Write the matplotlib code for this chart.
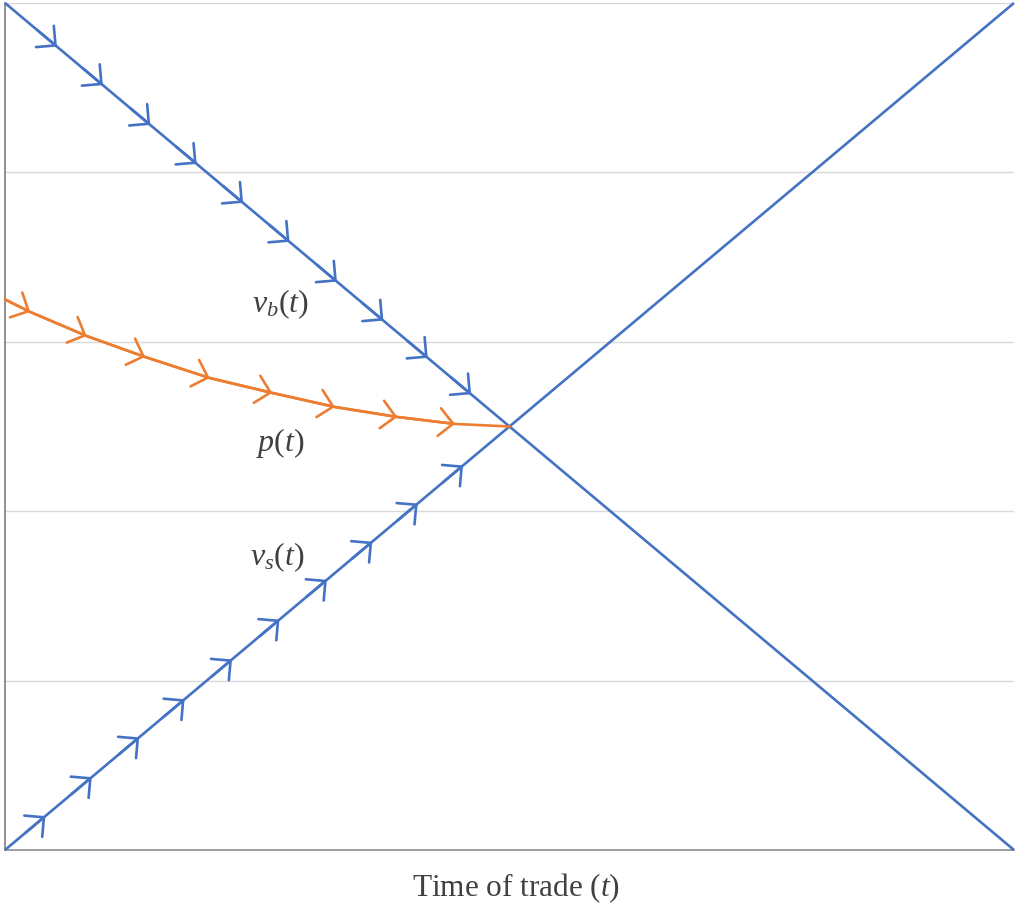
import numpy as np
import matplotlib
matplotlib.use("Agg")
import matplotlib.pyplot as plt

BLUE = "#4472C4"
ORANGE = "#ED7D31"
TXT = "#404040"

# line end points (x is time, y is value)
vb_x = [0.0, 1.0]
vb_y = [5.0, 0.0]
vs_x = [0.0, 1.0]
vs_y = [0.0, 5.0]
# price path p(t)
p_x = [0.0, 0.025, 0.081, 0.139, 0.203, 0.265, 0.327, 0.389, 0.446, 0.5]
p_y = [3.25, 3.176, 3.034, 2.910, 2.786, 2.698, 2.615, 2.556, 2.515, 2.5]
# where the chevrons sit
vb_arrows = [0.0515, 0.097, 0.144, 0.190, 0.236, 0.282, 0.329, 0.375, 0.419, 0.462]
vs_arrows = [0.040, 0.086, 0.133, 0.178, 0.225, 0.272, 0.319, 0.364, 0.409, 0.454]

plt.rcParams["mathtext.fontset"] = "custom"
plt.rcParams["mathtext.rm"] = "Liberation Serif"
plt.rcParams["mathtext.it"] = "Liberation Serif:italic"
plt.rcParams["font.family"] = "Liberation Serif"

fig = plt.figure(figsize=(10.16, 9.05), dpi=100)
ax = fig.add_axes([0.0049, 0.0608, 0.9931, 0.9359])
ax.set_xlim(0, 1); ax.set_ylim(0, 5)
ax.set_yticks([1, 2, 3, 4, 5]); ax.set_xticks([])
ax.grid(axis="y", color="#d9d9d9", lw=1.0)
ax.tick_params(left=False, labelleft=False)
for s in ["top", "right"]:
    ax.spines[s].set_visible(False)
ax.spines["left"].set_color("#7f7f7f"); ax.spines["bottom"].set_color("#8c8c8c")
ax.spines["left"].set_linewidth(1.2); ax.spines["bottom"].set_linewidth(1.2)
ax.set_axisbelow(True)

LW = 1.9
ax.plot(vb_x, vb_y, color=BLUE, lw=LW, solid_capstyle="butt", clip_on=False, zorder=3)
ax.plot(vs_x, vs_y, color=BLUE, lw=LW, solid_capstyle="butt", clip_on=False, zorder=3)
ax.plot(p_x, p_y, color=ORANGE, lw=LW, solid_joinstyle="round", zorder=4)

def chevron(tip, back, color):
    ax.annotate("", xy=tip, xytext=back,
                arrowprops=dict(arrowstyle="->,head_length=1.0,head_width=1.0",
                                color=color, lw=LW, shrinkA=0, shrinkB=0,
                                mutation_scale=10), zorder=5)

for x in vb_arrows:
    chevron((x, 5 - 5 * x), (x - 0.02, 5 - 5 * (x - 0.02)), BLUE)
for x in vs_arrows:
    chevron((x, 5 * x), (x - 0.02, 5 * (x - 0.02)), BLUE)
for i in range(1, len(p_x) - 1):
    chevron((p_x[i], p_y[i]), (p_x[i - 1], p_y[i - 1]), ORANGE)

ax.text(0.273, 3.22, r"$v_b(t)$", fontsize=23, color=TXT, ha="center", va="center")
ax.text(0.273, 2.40, r"$p(t)$", fontsize=23, color=TXT, ha="center", va="center")
ax.text(0.270, 1.73, r"$v_s(t)$", fontsize=23, color=TXT, ha="center", va="center")

fig.text(0.5075, 0.0099, r"Time of trade ($t$)", fontsize=22.5, color=TXT,
         ha="center", va="baseline")

plt.savefig("out.png", dpi=100)
